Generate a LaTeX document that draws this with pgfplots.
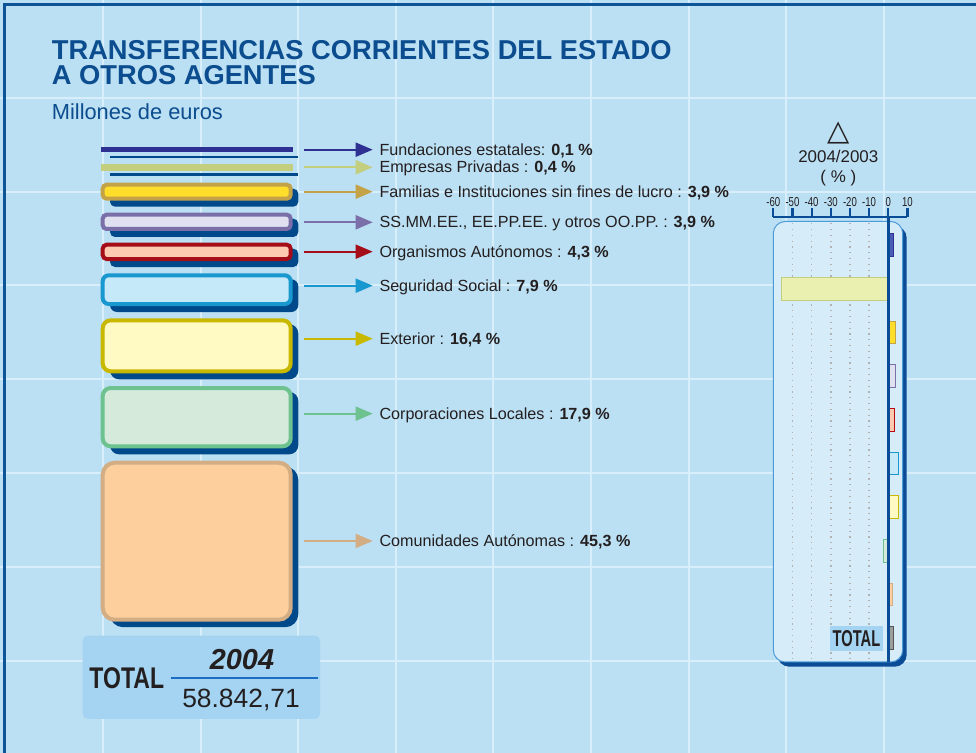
\documentclass[border=0pt]{standalone}
\usepackage{fontspec}
\setmainfont{Liberation Sans}
\newfontfamily\dejavu{DejaVu Sans}
\usepackage{graphicx}
\usepackage{pgfplots}
\pgfplotsset{compat=1.18}
\usetikzlibrary{arrows.meta}

\definecolor{bg}{HTML}{BBDFF3}
\definecolor{gridc}{HTML}{D8EEFA}
\definecolor{frame}{HTML}{0D5596}
\definecolor{titlec}{HTML}{0B4D8E}
\definecolor{txt}{HTML}{231F20}
\definecolor{shadow}{HTML}{00498A}
\definecolor{navyax}{HTML}{0A4D96}
\definecolor{panelfill}{HTML}{D7ECF9}
\definecolor{panelborder}{HTML}{4D9BD8}
\definecolor{totbg}{HTML}{A4D4F1}
\definecolor{totline}{HTML}{1B6EC2}
% series colours
\definecolor{funD}{HTML}{2E3192}\definecolor{funF}{HTML}{4A5DB5}
\definecolor{empD}{HTML}{C3CF7E}\definecolor{empF}{HTML}{E9F0B0}
\definecolor{famD}{HTML}{C4A348}\definecolor{famF}{HTML}{FFDD2B}
\definecolor{ssD}{HTML}{7A6FA9}\definecolor{ssF}{HTML}{DFE0F0}
\definecolor{orgD}{HTML}{A50D18}\definecolor{orgF}{HTML}{FCC9B1}
\definecolor{segD}{HTML}{1898CF}\definecolor{segF}{HTML}{C6E9F9}
\definecolor{extD}{HTML}{C8B800}\definecolor{extF}{HTML}{FFF9C4}
\definecolor{corD}{HTML}{6DC28F}\definecolor{corF}{HTML}{D6EADC}
\definecolor{comD}{HTML}{D3AD84}\definecolor{comF}{HTML}{FDCF9D}
\definecolor{totD}{HTML}{555555}\definecolor{totF}{HTML}{9E9E9E}

\newcommand{\fs}[1]{\fontsize{#1}{#1}\selectfont}

\begin{document}
\begin{tikzpicture}
\useasboundingbox (0,0) rectangle (976bp,753bp);
\clip (0,0) rectangle (976bp,753bp);

\begin{scope}[yshift=753bp, x=1bp, y=-1bp]
  % background and grid
  \fill[bg] (0,0) rectangle (976,753);
  \draw[gridc, line width=2bp]
    (103,0)--(103,753) (200.6,0)--(200.6,753) (298.2,0)--(298.2,753)
    (395.8,0)--(395.8,753) (493.4,0)--(493.4,753) (591,0)--(591,753)
    (688.6,0)--(688.6,753) (786.2,0)--(786.2,753) (883.8,0)--(883.8,753)
    (0,97.7)--(976,97.7) (0,191.6)--(976,191.6) (0,285.5)--(976,285.5)
    (0,379.4)--(976,379.4) (0,473.3)--(976,473.3) (0,567.2)--(976,567.2)
    (0,661.1)--(976,661.1);
  \draw[frame, line width=2.8bp] (4.6,800) -- (4.6,4.6) -- (1000,4.6);

  % title
  \node[anchor=base west, inner sep=0, text=titlec, font=\bfseries\fs{27.4}] at (51.7,60)
    {TRANSFERENCIAS CORRIENTES DEL ESTADO};
  \node[anchor=base west, inner sep=0, text=titlec, font=\bfseries\fs{27.4}] at (51.7,85)
    {A OTROS AGENTES};
  \node[anchor=base west, inner sep=0, text=titlec, font=\fs{21.9}] at (51.7,119.3)
    {Millones de euros};

  % arrows
  \draw[funD, line width=2bp, -{Triangle[length=17bp,width=14bp]}] (304.3,149.7)--(372.7,149.7);
  \draw[empD, line width=2bp, -{Triangle[length=17bp,width=14bp]}] (304.3,167.3)--(372.7,167.3);
  \draw[famD, line width=2bp, -{Triangle[length=17bp,width=14bp]}] (304.3,191.7)--(372.7,191.7);
  \draw[ssD, line width=2bp, -{Triangle[length=17bp,width=14bp]}] (304.3,222.3)--(372.7,222.3);
  \draw[orgD, line width=2bp, -{Triangle[length=17bp,width=14bp]}] (304.3,251.7)--(372.7,251.7);
  \draw[segD, line width=2bp, -{Triangle[length=17bp,width=14bp]}] (304.3,285.7)--(372.7,285.7);
  \draw[extD, line width=2bp, -{Triangle[length=17bp,width=14bp]}] (304.3,338.7)--(372.7,338.7);
  \draw[corD, line width=2bp, -{Triangle[length=17bp,width=14bp]}] (304.3,413.7)--(372.7,413.7);
  \draw[comD, line width=2bp, -{Triangle[length=17bp,width=14bp]}] (304.3,541)--(372.7,541);

  % labels
  \tikzset{lab/.style={anchor=base west, inner sep=0, text=txt, font=\fs{16.2}}}
  \node[lab] at (379.3,155.6) {Fundaciones estatales: \textbf{0,1 \%}};
  \node[lab] at (379.3,172.9) {Empresas Privadas : \textbf{0,4 \%}};
  \node[lab] at (379.3,197.4) {Familias e Instituciones sin fines de lucro : \textbf{3,9 \%}};
  \node[lab] at (379.3,228.0) {SS.MM.EE., EE.PP.EE. y otros OO.PP. : \textbf{3,9 \%}};
  \node[lab] at (379.3,257.4) {Organismos Autónomos : \textbf{4,3 \%}};
  \node[lab] at (379.3,291.4) {Seguridad Social : \textbf{7,9 \%}};
  \node[lab] at (379.3,344.4) {Exterior : \textbf{16,4 \%}};
  \node[lab] at (379.3,419.4) {Corporaciones Locales : \textbf{17,9 \%}};
  \node[lab] at (379.3,546.7) {Comunidades Autónomas : \textbf{45,3 \%}};

  % total box
  \fill[totbg, rounded corners=5bp] (82.7,635.7) rectangle (320,719);
  \draw[totline, line width=1.6bp] (170.7,678.3) -- (317.7,678.3);
  \node[anchor=base west, inner sep=0, text=txt, font=\bfseries\fs{30}] at (89.3,689)
    {\scalebox{0.77}[1]{TOTAL}};
  \node[anchor=base, inner sep=0, text=txt, font=\bfseries\itshape\fs{29}] at (242,670) {2004};
  \node[anchor=base, inner sep=0, text=txt, font=\fs{26.5}] at (241,707.3) {58.842,71};

  % right panel header
  \node[anchor=base, inner sep=0, text=txt, font=\dejavu\fs{29}] at (838.3,140.5) {△};
  \node[anchor=base, inner sep=0, text=txt, font=\fs{17}] at (838.3,162.3) {2004/2003};
  \node[anchor=base, inner sep=0, text=txt, font=\fs{17}] at (838.3,183) {( \% )};

  % right panel box
  \fill[navyax, rounded corners=12bp] (777.3,226) rectangle (906.7,666.7);
  \filldraw[fill=panelfill, draw=panelborder, line width=1bp, rounded corners=12bp]
    (773.3,221.5) rectangle (902.7,662);
\end{scope}

% ---------- left blocks (pixel axis) ----------
\begin{axis}[at={(0,0)}, anchor=south west, scale only axis,
  width=976bp, height=753bp, xmin=0, xmax=976, ymin=0, ymax=753,
  y dir=reverse, hide axis, clip=false]
  % Fundaciones estatales 0,1 %
  \addplot[fill=shadow, draw=none, mark=none] coordinates {(110,156)(298.3,156)(298.3,157.7)(110,157.7)} --cycle;
  \addplot[fill=funD, draw=none, mark=none] coordinates {(100.7,146.7)(292.7,146.7)(292.7,152.3)(100.7,152.3)} --cycle;
  % Empresas Privadas 0,4 %
  \addplot[fill=shadow, draw=none, mark=none] coordinates {(110,173.3)(298.3,173.3)(298.3,176.3)(110,176.3)} --cycle;
  \addplot[fill=empD, draw=none, mark=none] coordinates {(100.7,163.7)(292.7,163.7)(292.7,171.3)(100.7,171.3)} --cycle;
  % Familias 3,9 %
  \addplot[fill=shadow, draw=none, mark=none, rounded corners=5bp] coordinates {(110,188.7)(298.3,188.7)(298.3,206.7)(110,206.7)} --cycle;
  \addplot[fill=famF, draw=famD, line width=4bp, mark=none, rounded corners=4bp] coordinates {(102.7,184.7)(290.7,184.7)(290.7,198.7)(102.7,198.7)} --cycle;
  % SS.MM.EE. 3,9 %
  \addplot[fill=shadow, draw=none, mark=none, rounded corners=5bp] coordinates {(110,218.7)(298.3,218.7)(298.3,237)(110,237)} --cycle;
  \addplot[fill=ssF, draw=ssD, line width=4bp, mark=none, rounded corners=4bp] coordinates {(102.7,214.7)(290.7,214.7)(290.7,229)(102.7,229)} --cycle;
  % Organismos Autonomos 4,3 %
  \addplot[fill=shadow, draw=none, mark=none, rounded corners=5bp] coordinates {(110,248.7)(298.3,248.7)(298.3,267)(110,267)} --cycle;
  \addplot[fill=orgF, draw=orgD, line width=4bp, mark=none, rounded corners=4bp] coordinates {(102.7,244.7)(290.7,244.7)(290.7,259)(102.7,259)} --cycle;
  % Seguridad Social 7,9 %
  \addplot[fill=shadow, draw=none, mark=none, rounded corners=7bp] coordinates {(110,279.3)(298.3,279.3)(298.3,312)(110,312)} --cycle;
  \addplot[fill=segF, draw=segD, line width=4bp, mark=none, rounded corners=6bp] coordinates {(102.7,275.3)(290.7,275.3)(290.7,304)(102.7,304)} --cycle;
  % Exterior 16,4 %
  \addplot[fill=shadow, draw=none, mark=none, rounded corners=9bp] coordinates {(110,324.3)(298.3,324.3)(298.3,379.3)(110,379.3)} --cycle;
  \addplot[fill=extF, draw=extD, line width=4bp, mark=none, rounded corners=8bp] coordinates {(102.7,320.3)(290.7,320.3)(290.7,371.3)(102.7,371.3)} --cycle;
  % Corporaciones Locales 17,9 %
  \addplot[fill=shadow, draw=none, mark=none, rounded corners=9bp] coordinates {(110,392)(298.3,392)(298.3,454.3)(110,454.3)} --cycle;
  \addplot[fill=corF, draw=corD, line width=4bp, mark=none, rounded corners=8bp] coordinates {(102.7,388)(290.7,388)(290.7,446.3)(102.7,446.3)} --cycle;
  % Comunidades Autonomas 45,3 %
  \addplot[fill=shadow, draw=none, mark=none, rounded corners=13bp] coordinates {(110,466.7)(298.3,466.7)(298.3,627.2)(110,627.2)} --cycle;
  \addplot[fill=comF, draw=comD, line width=4bp, mark=none, rounded corners=12bp] coordinates {(102.7,462.7)(290.7,462.7)(290.7,619.7)(102.7,619.7)} --cycle;
\end{axis}

% ---------- right panel: variation 2004/2003 (%) ----------
\begin{axis}[at={(773.3bp,92.9bp)}, anchor=south west, scale only axis,
  width=134.17bp, height=443.1bp,
  xmin=-60, xmax=10, ymin=-0.64, ymax=9.5, y dir=reverse,
  axis x line*=top, axis y line=none, ytick=\empty,
  xtick={-60,-50,-40,-30,-20,-10,0,10},
  xticklabels={-60,-50,-40,-30,-20,-10,0,10},
  tick align=outside, major tick length=9bp,
  x axis line style={line width=2.5bp, color=navyax},
  every tick/.style={line width=2.2bp, color=navyax},
  xticklabel style={font=\fs{13}, xscale=0.74, text=txt, inner sep=1bp},
  clip=false]
  \draw[gray!60, line width=1.4bp, dash pattern=on 1.3bp off 4.5bp]
    (-50,-0.5)--(-50,9.5) (-40,-0.5)--(-40,9.5) (-30,-0.5)--(-30,9.5)
    (-20,-0.5)--(-20,9.5) (-10,-0.5)--(-10,9.5);
  \node[fill=totbg, minimum width=52.7bp, minimum height=24.7bp, inner sep=0,
        text=txt, font=\bfseries\fs{23}] at (-16.6,9) {\scalebox{0.64}[1]{TOTAL}};
  \addplot[xbar, bar width=22.7bp, bar shift=0pt, fill=funF, draw=funD, line width=1bp] coordinates {(2.6,0)};
  \addplot[xbar, bar width=22.7bp, bar shift=0pt, fill=empF, draw=empD, line width=1bp] coordinates {(-55.6,1)};
  \addplot[xbar, bar width=22.7bp, bar shift=0pt, fill=famF, draw=famD, line width=1bp] coordinates {(3.65,2)};
  \addplot[xbar, bar width=22.7bp, bar shift=0pt, fill=ssF, draw=ssD, line width=1bp] coordinates {(3.65,3)};
  \addplot[xbar, bar width=22.7bp, bar shift=0pt, fill=orgF, draw=orgD!80!red, line width=1bp] coordinates {(3.1,4)};
  \addplot[xbar, bar width=22.7bp, bar shift=0pt, fill=segF, draw=segD, line width=1bp] coordinates {(5.4,5)};
  \addplot[xbar, bar width=22.7bp, bar shift=0pt, fill=extF, draw=extD, line width=1bp] coordinates {(5.4,6)};
  \addplot[xbar, bar width=22.7bp, bar shift=0pt, fill=corF, draw=corD, line width=1bp] coordinates {(-2.6,7)};
  \addplot[xbar, bar width=22.7bp, bar shift=0pt, fill=comF, draw=comD, line width=1bp] coordinates {(2.1,8)};
  \addplot[xbar, bar width=22.7bp, bar shift=0pt, fill=totF, draw=totD, line width=1bp] coordinates {(2.6,9)};
  \draw[navyax, line width=2.7bp] (0,-0.64) -- (0,9.55);
\end{axis}
\end{tikzpicture}
\end{document}
